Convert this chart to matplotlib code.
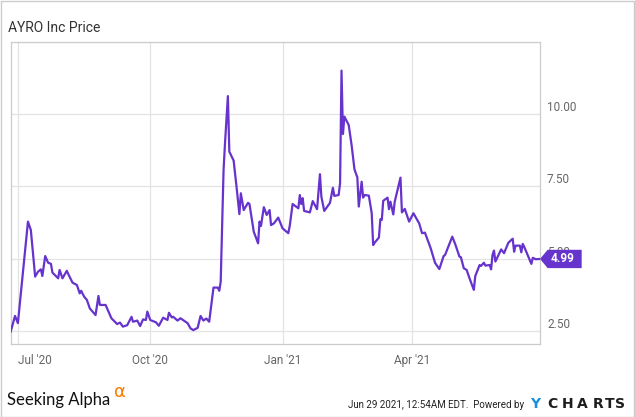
import datetime as dt
import matplotlib
matplotlib.use("Agg")
import matplotlib.pyplot as plt
import matplotlib.dates as mdates
import matplotlib.transforms as mtransforms
from matplotlib.patches import Polygon, Rectangle

# daily close
dates = [
    "2020-06-26", "2020-06-29", "2020-07-01", "2020-07-08", "2020-07-10", "2020-07-13",
    "2020-07-15", "2020-07-17", "2020-07-18", "2020-07-20", "2020-07-22", "2020-07-24",
    "2020-07-25", "2020-07-29", "2020-07-30", "2020-08-01", "2020-08-04", "2020-08-05",
    "2020-08-08", "2020-08-11", "2020-08-13", "2020-08-14", "2020-08-16", "2020-08-18",
    "2020-08-20", "2020-08-24", "2020-08-26", "2020-08-27", "2020-08-31", "2020-09-04",
    "2020-09-08", "2020-09-10", "2020-09-12", "2020-09-15", "2020-09-18", "2020-09-19",
    "2020-09-22", "2020-09-24", "2020-09-26", "2020-09-28", "2020-09-29", "2020-10-01",
    "2020-10-05", "2020-10-07", "2020-10-10", "2020-10-13", "2020-10-14", "2020-10-16",
    "2020-10-17", "2020-10-20", "2020-10-22", "2020-10-27", "2020-10-29", "2020-10-31",
    "2020-11-03", "2020-11-05", "2020-11-07", "2020-11-09", "2020-11-11", "2020-11-14",
    "2020-11-17", "2020-11-18", "2020-11-19", "2020-11-21", "2020-11-22", "2020-11-24",
    "2020-11-25", "2020-11-28", "2020-11-30", "2020-12-02", "2020-12-03", "2020-12-05",
    "2020-12-08", "2020-12-09", "2020-12-12", "2020-12-15", "2020-12-16", "2020-12-17",
    "2020-12-19", "2020-12-21", "2020-12-23", "2020-12-24", "2020-12-26", "2020-12-29",
    "2021-01-01", "2021-01-05", "2021-01-06", "2021-01-08", "2021-01-12", "2021-01-13",
    "2021-01-14", "2021-01-15", "2021-01-16", "2021-01-20", "2021-01-22", "2021-01-25",
    "2021-01-27", "2021-01-28", "2021-01-30", "2021-02-03", "2021-02-05", "2021-02-06",
    "2021-02-09", "2021-02-10", "2021-02-11", "2021-02-12", "2021-02-13", "2021-02-16",
    "2021-02-18", "2021-02-20", "2021-02-22", "2021-02-23", "2021-02-25", "2021-02-26",
    "2021-02-27", "2021-03-02", "2021-03-04", "2021-03-05", "2021-03-06", "2021-03-09",
    "2021-03-10", "2021-03-11", "2021-03-12", "2021-03-15", "2021-03-16", "2021-03-17",
    "2021-03-19", "2021-03-20", "2021-03-24", "2021-03-25", "2021-03-27", "2021-03-30",
    "2021-04-02", "2021-04-06", "2021-04-08", "2021-04-10", "2021-04-14", "2021-04-17",
    "2021-04-20", "2021-04-23", "2021-04-24", "2021-04-29", "2021-05-01", "2021-05-04",
    "2021-05-05", "2021-05-07", "2021-05-09", "2021-05-11", "2021-05-14", "2021-05-15",
    "2021-05-18", "2021-05-19", "2021-05-21", "2021-05-22", "2021-05-25", "2021-05-26",
    "2021-05-27", "2021-05-28", "2021-05-29", "2021-06-02", "2021-06-04", "2021-06-07",
    "2021-06-10", "2021-06-11", "2021-06-12", "2021-06-15", "2021-06-16", "2021-06-17",
    "2021-06-18", "2021-06-23", "2021-06-24", "2021-06-26", "2021-06-29",
]
prices = [
    2.48, 3.02, 2.77, 6.28, 5.99, 4.38,
    4.55, 4.63, 4.40, 5.09, 4.86, 4.82,
    4.52, 4.32, 4.61, 4.32, 4.58, 4.47,
    4.17, 4.09, 3.80, 3.89, 3.69, 3.57,
    3.28, 3.05, 3.71, 3.40, 3.40, 2.94,
    2.74, 2.79, 2.65, 2.70, 2.99, 2.82,
    2.86, 2.67, 2.90, 2.88, 3.17, 2.88,
    2.80, 2.68, 2.96, 2.88, 3.13, 2.97,
    2.99, 2.86, 2.94, 2.77, 2.59, 2.53,
    2.61, 3.02, 2.86, 2.93, 2.82, 4.00,
    4.00, 3.89, 4.20, 8.07, 8.99, 10.62,
    8.70, 8.39, 7.49, 6.54, 7.26, 6.68,
    6.93, 6.89, 5.93, 5.53, 6.28, 6.13,
    6.78, 6.51, 6.68, 6.16, 6.22, 6.42,
    6.05, 5.88, 6.13, 6.89, 6.74, 7.20,
    6.89, 7.09, 6.65, 6.60, 6.99, 6.71,
    7.92, 7.14, 6.65, 6.93, 7.45, 7.17,
    7.20, 7.61, 11.50, 9.31, 9.91, 9.62,
    8.93, 8.09, 7.81, 6.80, 7.66, 7.11,
    7.20, 7.18, 6.57, 5.47, 5.55, 5.73,
    6.36, 6.34, 7.00, 7.11, 6.71, 6.97,
    6.53, 6.97, 7.80, 6.60, 6.72, 6.28,
    6.57, 6.22, 5.88, 5.90, 5.36, 4.86,
    4.64, 5.09, 5.13, 5.76, 5.51, 5.07,
    5.05, 4.67, 4.61, 4.32, 3.92, 4.40,
    4.78, 4.75, 4.86, 4.76, 4.78, 4.63,
    5.13, 5.28, 4.90, 5.32, 5.19, 5.55,
    5.69, 5.24, 5.45, 5.45, 5.22, 5.51,
    5.41, 4.82, 5.03, 4.98, 4.99,
]

x_ticks = ["2020-07-01", "2020-10-01", "2021-01-01", "2021-04-01"]
x_labels = ["Jul '20", "Oct '20", "Jan '21", "Apr '21"]
y_ticks = [2.5, 5.0, 7.5, 10.0, 12.5]
y_labels = ["2.50", "5.00", "7.50", "10.00", ""]

title = "AYRO Inc Price"
stamp = "Jun 29 2021, 12:54AM EDT.  Powered by"

purple = "#6633cc"
grid_c = "#e3e3e3"
text_c = "#666666"

plt.rcParams["font.family"] = ["Roboto", "DejaVu Sans"]

W, H = 635, 417
fig = plt.figure(figsize=(W / 100, H / 100), dpi=100)


def fx(x):
    return x / W


def fy(y):
    return 1 - y / H


ax = fig.add_axes([fx(10.7), fy(344), fx(540) - fx(10.7), fy(41.7) - fy(344)])

d = [dt.datetime.strptime(s, "%Y-%m-%d") for s in dates]
ax.plot(d, prices, color=purple, lw=1.6, solid_joinstyle="round", zorder=3)

ax.set_xlim(dt.datetime(2020, 6, 26), dt.datetime(2021, 6, 29))
ax.set_ylim(2.05, 12.49)

ax.set_xticks([dt.datetime.strptime(s, "%Y-%m-%d") for s in x_ticks])
ax.set_xticklabels(x_labels)
ax.yaxis.tick_right()
ax.set_yticks(y_ticks)
ax.set_yticklabels(y_labels)
ax.tick_params(axis="both", length=0, labelsize=8.5, labelcolor=text_c)
ax.tick_params(axis="x", pad=7)
ax.tick_params(axis="y", pad=5)
ax.get_xticklabels()[0].set_ha("left")
for lab in ax.get_yticklabels():
    lab.set_va("bottom")

ax.grid(True, color=grid_c, lw=0.9)
ax.set_axisbelow(True)
for sp in ax.spines.values():
    sp.set_color("#cccccc")
    sp.set_linewidth(0.9)

# last price tag on the right axis
anchor = mtransforms.blended_transform_factory(ax.transAxes, ax.transData)
tag_tr = mtransforms.Affine2D().scale(fig.dpi / 72) + mtransforms.ScaledTranslation(1.0, prices[-1], anchor)
tag = Polygon([(0, 0), (5.5, 6.6), (30, 6.6), (30, -6.6), (5.5, -6.6)], closed=True,
              facecolor=purple, edgecolor="none", transform=tag_tr, clip_on=False, zorder=5)
ax.add_patch(tag)
ax.text(16.5, 0, f"{prices[-1]:.2f}", transform=tag_tr, color="white", fontsize=8.5,
        fontweight="bold", ha="center", va="center", zorder=6, clip_on=False)

fig.text(fx(8), fy(31.7), title, fontsize=10, color="#333333", va="baseline")

# footer
fig.text(fx(7.3), fy(405), "Seeking Alpha", fontsize=12, family=["Lato", "DejaVu Sans"],
         color="#111111", va="baseline")
fig.text(fx(114), fy(397), "\u03b1", fontsize=13, family=["DejaVu Sans"],
         color="#ff7a00", va="baseline")
fig.text(fx(524), fy(408.3), stamp, fontsize=7.0, color="#222222", ha="right", va="baseline")
logo_cx = [535, 552.3, 567.8, 582.7, 597.7, 609.5, 620]
for ch, lx in zip("YCHARTS", logo_cx):
    fig.text(fx(lx), fy(408), ch, fontsize=10, fontweight="heavy", family=["DejaVu Sans"],
             color="#1a8fdd" if ch == "Y" else "#1d1d1d", ha="center", va="baseline")

fig.patches.append(Rectangle((0.5 / W, 0.5 / H), (W - 2) / W, (H - 1.5) / H, transform=fig.transFigure,
                             fill=False, edgecolor="#cccccc", lw=1.0))

fig.savefig("out.png", dpi=100)
